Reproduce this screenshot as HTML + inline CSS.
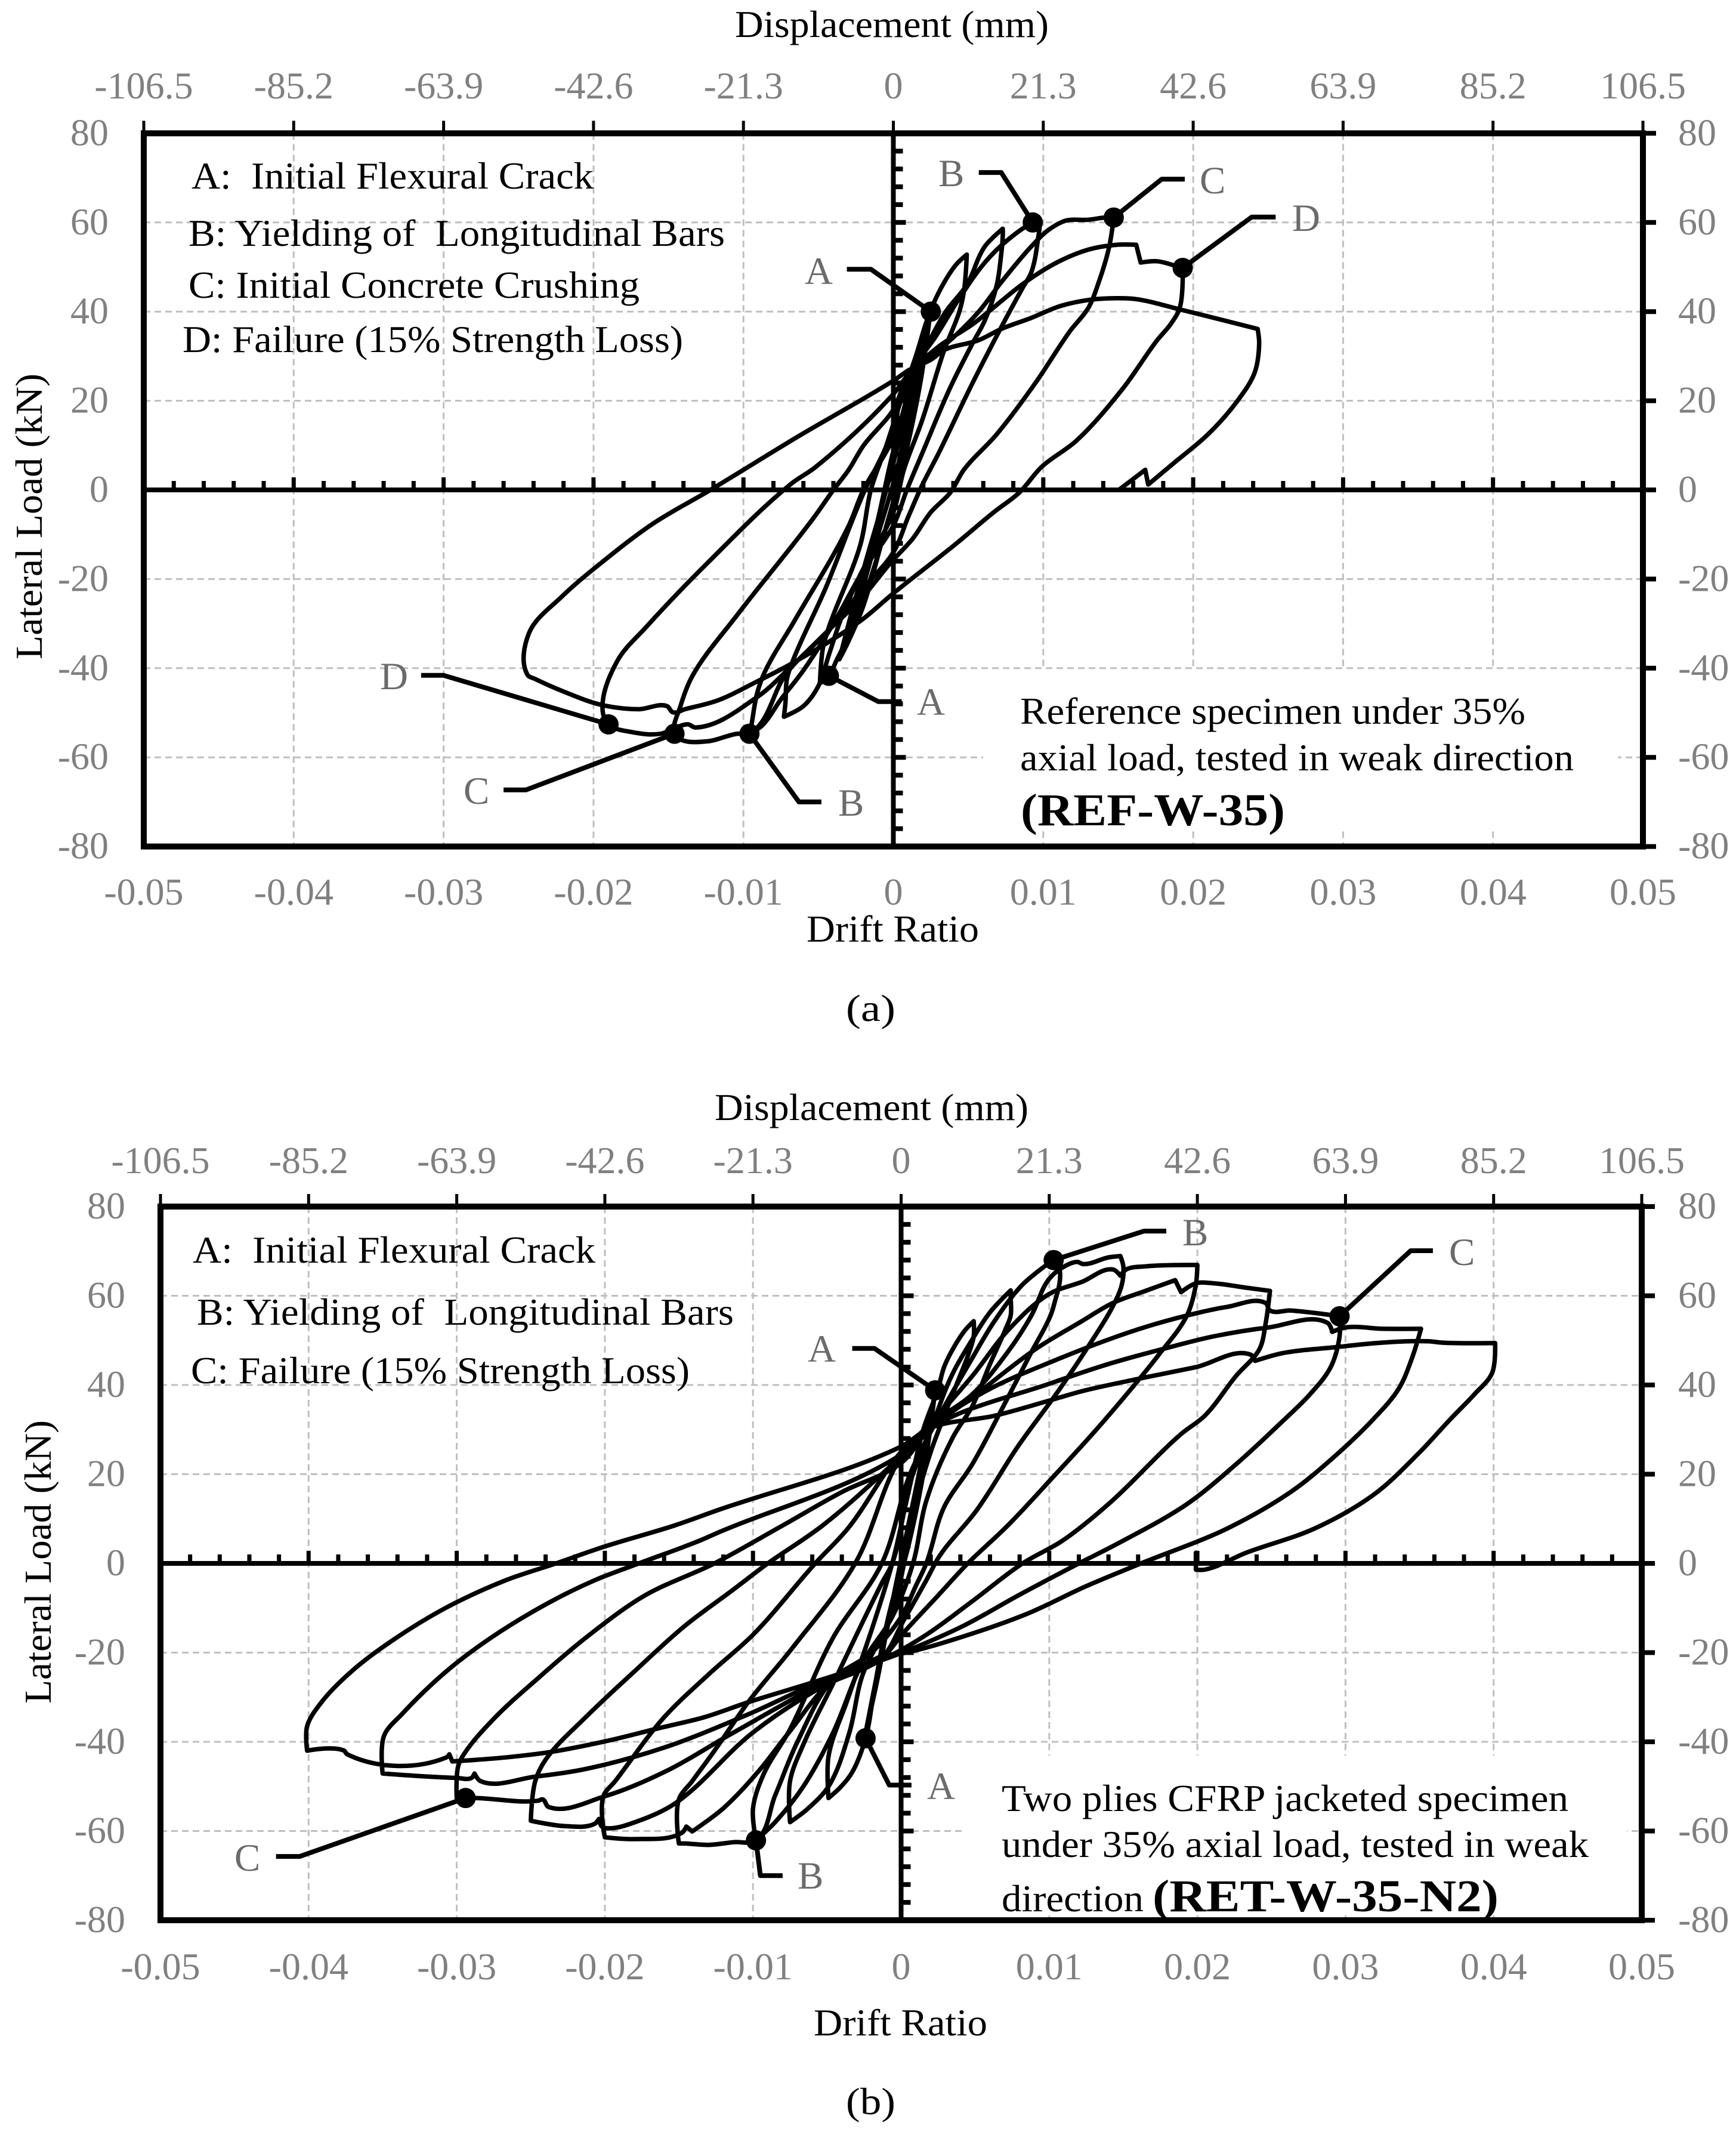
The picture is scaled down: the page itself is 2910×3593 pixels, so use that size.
<!DOCTYPE html>
<html lang="en">
<head>
<meta charset="utf-8">
<title>Hysteresis curves REF-W-35 and RET-W-35-N2</title>
<style>
html,body{margin:0;padding:0;background:#fff;width:2910px;height:3593px;overflow:hidden}
svg{display:block}
text{font-family:"Liberation Serif","Times New Roman",serif}
.title{font-size:64px;fill:#000}
.legend{font-size:64px;fill:#000}
.note{font-size:64px;fill:#000}
.code{font-size:76px;fill:#000;font-weight:bold}
.paren{font-size:76px;fill:#000}
.pt{font-size:65px;fill:#6b6b6b}
</style>
</head>
<body>
<svg id="figure" xmlns="http://www.w3.org/2000/svg" width="2910" height="3593" viewBox="0 0 2910 3593">
  <rect x="0" y="0" width="2910" height="3593" fill="#fff"/>
  <g id="panelA"></g>
  <g id="panelB"></g>

  <g id="textA">
    <text class="title" x="1232" y="62" textLength="526" lengthAdjust="spacingAndGlyphs">Displacement (mm)</text>
    <text class="title" x="1352" y="1578" textLength="289" lengthAdjust="spacingAndGlyphs">Drift Ratio</text>
    <text class="title" transform="translate(70,1105) rotate(-90)" textLength="479" lengthAdjust="spacingAndGlyphs">Lateral Load (kN)</text>
    <text class="title" x="1418" y="1711" font-size="70" textLength="83" lengthAdjust="spacingAndGlyphs">(a)</text>
    <text class="legend" x="321" y="316" textLength="674" lengthAdjust="spacingAndGlyphs" xml:space="preserve">A:  Initial Flexural Crack</text>
    <text class="legend" x="316" y="412" textLength="899" lengthAdjust="spacingAndGlyphs" xml:space="preserve">B: Yielding of  Longitudinal Bars</text>
    <text class="legend" x="316" y="499" textLength="756" lengthAdjust="spacingAndGlyphs">C: Initial Concrete Crushing</text>
    <text class="legend" x="306" y="590" textLength="839" lengthAdjust="spacingAndGlyphs">D: Failure (15% Strength Loss)</text>
    <text class="note" x="1710" y="1213" textLength="847" lengthAdjust="spacingAndGlyphs">Reference specimen under 35%</text>
    <text class="note" x="1710" y="1291" textLength="928" lengthAdjust="spacingAndGlyphs">axial load, tested in weak direction</text>
    <text x="1711" y="1383" textLength="443" lengthAdjust="spacingAndGlyphs" class="code">(REF-W-35)</text>
    <text class="pt" x="1349" y="476">A</text>
    <text class="pt" x="1573" y="312">B</text>
    <text class="pt" x="2011" y="324">C</text>
    <text class="pt" x="2166" y="387">D</text>
    <text class="pt" x="1537" y="1198">A</text>
    <text class="pt" x="1405" y="1367">B</text>
    <text class="pt" x="777" y="1347">C</text>
    <text class="pt" x="637" y="1155">D</text>
  </g>

  <g id="textB">
    <text class="title" x="1198" y="1877" textLength="526" lengthAdjust="spacingAndGlyphs">Displacement (mm)</text>
    <text class="title" x="1364" y="3411" textLength="291" lengthAdjust="spacingAndGlyphs">Drift Ratio</text>
    <text class="title" transform="translate(85,2855) rotate(-90)" textLength="475" lengthAdjust="spacingAndGlyphs">Lateral Load (kN)</text>
    <text class="title" x="1418" y="3543" font-size="70" textLength="83" lengthAdjust="spacingAndGlyphs">(b)</text>
    <text class="legend" x="323" y="2116" textLength="675" lengthAdjust="spacingAndGlyphs" xml:space="preserve">A:  Initial Flexural Crack</text>
    <text class="legend" x="330" y="2220" textLength="900" lengthAdjust="spacingAndGlyphs" xml:space="preserve">B: Yielding of  Longitudinal Bars</text>
    <text class="legend" x="320" y="2318" textLength="836" lengthAdjust="spacingAndGlyphs">C: Failure (15% Strength Loss)</text>
    <text class="note" x="1679" y="3035" textLength="950" lengthAdjust="spacingAndGlyphs">Two plies CFRP jacketed specimen</text>
    <text class="note" x="1679" y="3112" textLength="984" lengthAdjust="spacingAndGlyphs">under 35% axial load, tested in weak</text>
    <text class="note" x="1679" y="3203" textLength="238" lengthAdjust="spacingAndGlyphs">direction</text>
    <text class="code" x="1932" y="3203" textLength="580" lengthAdjust="spacingAndGlyphs">(RET-W-35-N2)</text>
    <text class="pt" x="1354" y="2282">A</text>
    <text class="pt" x="1982" y="2087">B</text>
    <text class="pt" x="2429" y="2120">C</text>
    <text class="pt" x="1554" y="3015">A</text>
    <text class="pt" x="1337" y="3165">B</text>
    <text class="pt" x="393" y="3135">C</text>
  </g>
</svg>

<script>
// ---------- shared axis data ----------
const driftTicks = [-0.05,-0.04,-0.03,-0.02,-0.01,0,0.01,0.02,0.03,0.04,0.05];
const driftTickLabels = ['-0.05','-0.04','-0.03','-0.02','-0.01','0','0.01','0.02','0.03','0.04','0.05'];
const displacementTickLabels = ['-106.5','-85.2','-63.9','-42.6','-21.3','0','21.3','42.6','63.9','85.2','106.5'];
const loadTicks = [80,60,40,20,0,-20,-40,-60,-80];
const loadTickLabels = ['80','60','40','20','0','-20','-40','-60','-80'];

// ---------- REF-W-35 : loop history ----------
const driftA = [
 0,.0012,.0024,.0018,.0006,-.0008,-.002,-.003,-.0036,-.0025,-.0012,-.0002,.001,.002,.0012,.0002,-.0012,-.0024,-.0032,-.002,-.0008,.0003,
 .0012,.0024,.0018,.0006,-.0008,
 -.002,-.003,-.0038,-.0043,-.0049,-.0047,-.0043,-.0022,-.0015,-.0005,.0005,
 .0015,.00245,.0034,.0042,.0049,.0047,.0044,.0034,.0019,.0007,0,
 -.0022,-.0035,-.0043,-.005,-.006,-.0073,-.0072,-.0071,-.0067,-.0045,-.0025,-.0019,-.0005,.0005,
 .0019,.0035,.0049,.0061,.0073,.0073,.0072,.0069,.0061,.0053,.0038,.0019,.0009,0,
 -.002,-.004,-.006,-.0075,-.0088,-.0096,-.0095,-.0091,-.0086,-.0066,-.003,-.002,0,.0005,
 .0011,.0028,.0044,.0061,.0076,.00935,.0098,.0097,.0092,.0086,.0072,.0053,.003,.0019,.001,0,-.002,
 -.0043,-.0071,-.0096,-.0104,-.0124,-.0142,-.0146,-.0142,-.0134,-.0104,-.0053,-.004,-.003,-.002,0,
 .0011,.0038,.0057,.0072,.0092,.0103,.0115,.013,.0141,.0147,.0144,.0137,.013,.0118,.0095,.0069,.0047,.0038,.0025,.0013,-.0002,-.0022,
 -.0043,-.0068,-.0091,-.0132,-.0137,-.0145,-.0155,-.0175,-.019,-.0194,-.0184,-.0165,-.0124,-.0068,-.0052,0,
 .0011,.003,.0053,.0088,.0109,.013,.0149,.0162,.0165,.0176,.0193,.0191,.0185,.0176,.0153,.0122,.0099,.0084,.0067,.0041,0,
 -.0022,-.0068,-.0091,-.0117,-.0139,-.0147,-.0151,-.017,-.0195,-.0221,-.0239,-.0244,-.0243,-.0221,-.0195,-.016,-.0122,-.0063,0,
 .0011,.0025,.0034,.0057,.0072,.0092,.0111,.013,.0149,.0162,.0191,.0222,.0243,.0244,.0241,.0229,.021,.0187,.017,.0168,.0151
];
const loadA = [
 0,18,38,24,5,-12,-26,-34,-38,-24,-9,6,22,34,20,4,-12,-26,-34,-18,-4,10,
 24,38,24,5,-12,
 -24.6,-32.8,-38.3,-41.7,-43.4,-35.5,-30.8,-12.3,0,9.6,20,
 30,40,46.6,50.6,52.8,44.4,40,31.4,15.4,4.5,-5,
 -19,-29,-37,-44,-48.5,-50.9,-47.8,-42.4,-38.3,-21.9,-4.8,0,9.6,20,
 30,40,46,54.6,58.6,57,53,46,38,33,23,8,0,-8,
 -18,-30,-40.5,-47,-53,-54.7,-53.3,-45.8,-41,-29.4,-8.2,0,12,22,
 26.3,34.3,43,51,56,60,60.4,57.5,48.8,45.2,36.5,24.1,8.1,.9,-6,-14,-22,
 -31.4,-41,-54.7,-54.7,-56.4,-56,-54.7,-48.5,-41.7,-28,-6.2,0,4.4,9.9,18,
 26.3,33.6,40,46.6,54.6,58.2,60.4,60.6,61.1,61.1,54.6,46.6,40.8,35.7,24.1,12.5,4.5,-.6,-5,-10.9,-16.4,-24.6,
 -31.4,-39.6,-46.5,-53.3,-52.6,-53.3,-54.7,-54.3,-52.6,-49.2,-38.3,-30.8,-16.4,1.4,5.1,21.5,
 26.3,32.1,37.2,46.6,51,53.9,55,55,51,51.3,49.7,40.8,37.2,33.6,22.7,11,5.2,-.6,-5,-12.3,-23.2,
 -29.4,-39,-43,-47.2,-49.2,-49.9,-48.5,-49.2,-48.2,-45.1,-42.4,-41.5,-32.1,-23.9,-16.4,-7.5,0,12.1,24.5,
 27,29.2,31.4,33.6,36.1,38.6,41.2,42.6,43,42.8,40.5,37.9,36.1,32.8,26.3,19.75,12.5,6,1.2,4.5,.15
];
const markerDriftA = [.0025,.0093,.0147,.0193,-.0043,-.0096,-.0146,-.019];
const markerLoadA  = [40,60,61.1,49.8,-41.7,-54.7,-54.7,-52.6];
const leaderDriftA = [
 [-.0031,-.0015,.0025],[.0057,.0072,.0093],[.01944,.0179,.0147],[.0255,.0239,.0193],
 [.00056,-.001,-.0043],[-.0048,-.0063,-.0096],[-.026,-.0245,-.0146],[-.0315,-.03,-.019]
];
const leaderLoadA = [
 [49.5,49.5,40],[71.2,71.2,60],[69.7,69.7,61.1],[61.2,61.2,49.8],
 [-47.5,-47.5,-41.7],[-70,-70,-54.7],[-67.3,-67.3,-54.7],[-41.6,-41.6,-52.6]
];

// ---------- RET-W-35-N2 : loop history ----------
const driftB = [
 0,.0012,.0023,.0016,.0005,-.001,-.0018,-.0024,-.0014,-.0004,.0006,.0016,.0023,.0012,.0002,-.0008,-.0016,-.0024,-.0012,0,.001,.0022,.0012,.0002,-.001,
 -.0018,-.0024,-.0033,-.0041,-.0049,-.0049,-.0036,-.0019,-.0006,.0005,
 .0015,.0025,.0029,.0035,.0043,.0049,.0049,.0046,.0038,.0029,.002,.0008,.0002,-.0007,
 -.0026,-.0035,-.0049,-.0063,-.0075,-.0075,-.0066,-.0046,-.0013,-.0006,.0006,
 .002,.0034,.0048,.006,.0074,.0074,.0074,.0071,.006,.0048,.0035,.0017,.0008,-.0006,
 -.0026,-.0046,-.0066,-.0085,-.0098,-.01,-.0093,-.0075,-.0046,-.0013,.0006,
 .0024,.0048,.0063,.0082,.0103,.0107,.0103,.01,.0088,.0069,.0048,.0029,.0017,.001,0,-.002,
 -.0046,-.007,-.0085,-.0098,-.0113,-.013,-.0146,-.015,-.015,-.0141,-.0126,-.0103,-.0073,-.0031,0,
 .0017,.0048,.0072,.0088,.01,.0112,.0119,.0123,.014,.0148,.015,.0149,.0143,.0128,.0106,.0079,.0051,.0026,.0017,.0002,-.0014,
 -.0046,-.0076,-.0096,-.012,-.0141,-.0145,-.0148,-.018,-.02,-.0201,-.0193,-.016,-.013,-.01,-.0058,-.0036,0,
 .0017,.0048,.0072,.01,.0122,.0143,.0148,.0152,.0165,.02,.0199,.0193,.0174,.0159,.0131,.0103,.0072,.0045,.0023,.0002,-.0014,
 -.0053,-.01,-.0153,-.0177,-.0198,-.0202,-.0204,-.0207,-.0227,-.025,-.0247,-.024,-.0213,-.018,-.0146,-.0113,-.009,-.0053,0,
 .002,.0048,.0091,.0122,.0143,.0165,.0185,.0189,.0199,.0211,.0233,.0249,.0246,.0242,.0226,.0205,.0189,.014,.0109,.0082,.0048,.0017,-.0008,
 -.0053,-.0113,-.016,-.02,-.0238,-.0242,-.0245,-.0287,-.03,-.0299,-.0295,-.0274,-.0247,-.0213,-.0173,-.0126,-.008,-.004,0,
 .002,.0057,.0103,.0146,.0171,.0202,.022,.0246,.0249,.0263,.0296,.0296,.029,.0276,.0257,.0226,.0193,.0146,.012,.0079,.0042,0,
 -.0053,-.0103,-.016,-.0213,-.0247,-.0284,-.0288,-.029,-.03,-.035,-.0349,-.0337,-.0307,-.0277,-.024,-.0207,-.0177,-.0136,-.0125,0,
 .002,.0103,.014,.0177,.0211,.0248,.0288,.0291,.03,.0325,.0351,.0345,.0336,.0319,.0291,.0263,.022,.0162,.0125,.0085,.0039,.0002,
 -.0013,-.0026,-.0056,-.0103,-.0133,-.0163,-.02,-.0237,-.0267,-.0294,-.0303,-.0305,-.0307,-.0374,-.0376,-.0401,-.0401,-.0391,-.0371,-.0344,-.0307,-.0267,-.0233,-.02,-.0153,-.0125,0,
 .002,.0063,.01,.0122,.0159,.0199,.0236,.0239,.0257,.0294,.0325,.0356,.0365,.0401,.0399,.0387,.0371,.035,.0319,.0279,.0233,.0205,.0199,.0199
];
const loadB = [
 0,18,38.8,22,4,-14,-28,-39,-22,-6,10,26,38,20,4,-12,-26,-38,-18,0,16,36,18,2,-14,
 -28,-39.2,-46.8,-50.2,-52.6,-43.3,-30.4,-14,0,16,
 30,39.2,44,48.1,52.2,54.3,50.9,47.4,40.6,33,25,11,0,-12,
 -25,-38,-50,-55,-58,-48.8,-40.6,-27,-4.4,0,18,
 30,42,50.2,56.3,61.2,59.7,55.6,52.9,44.7,35.2,28.3,14,0,-12,
 -22.2,-38,-50,-58,-62.1,-55,-47.4,-37.2,-16.7,0,20,
 32,46,54.3,62.5,68.1,65.9,57.7,54.9,47.4,35.2,22.2,12.6,0,-5,-12,-20,
 -26,-40,-52,-62.1,-62.5,-63.1,-62.8,-62.8,-52.9,-48.8,-42,-31,-18.8,0,24,
 30.4,37.9,47.4,55.6,63.8,66.9,67.6,67.1,68.6,68.9,66.6,62.5,57.7,49.5,38.6,26.3,11.9,1.7,-3.8,-12.6,-21.5,
 -26.3,-38,-46.5,-54.9,-60.1,-59,-60.4,-61.8,-61.4,-52.2,-48.8,-34.5,-24.9,-16,0,7.8,25,
 30.4,42,52.2,60.4,63.1,65.9,64.5,65.9,66.6,66.9,62.5,55.6,46.8,40.6,29.7,19.5,8.5,0,-7.9,-15.4,-21.5,
 -27.6,-37.9,-53.9,-57.7,-59.4,-59,-57.3,-58.4,-58.9,-57.7,-48.8,-44,-34.5,-24.2,-14,-5.8,0,8.5,24,
 30.4,37.2,48.1,54.3,58.4,61.1,63.5,60.8,62.8,62.8,61.8,61.1,53.6,48.1,42,33.1,29,13.3,5.1,0,-8.5,-16,-20.8,
 -27,-37.9,-46.8,-52.2,-54.6,-52.9,-53.2,-52.6,-52.6,-45.4,-42.7,-34.5,-26.3,-16.7,-7.2,0,8.5,16,22.5,
 30.4,38.6,45.4,50.9,53.6,56.3,57.5,58.4,56.7,56.7,55.4,50.9,44,37.9,31.7,22.2,13.3,4.4,0,-7.2,-14,-20.1,
 -26.3,-33.8,-41.3,-46.1,-47.8,-48.8,-47.1,-48.1,-48.1,-47.1,-38.6,-33.8,-24.2,-16.7,-9.2,-3.8,0,5.1,6.7,24.4,
 30.4,40.6,44.7,48.1,50.9,52.9,53.9,51.9,52.9,52.6,52.6,46.1,39.2,32.4,23.5,16,7.8,0,-5.1,-11.3,-16.7,-20.1,
 -20.8,-22.9,-26.3,-31.1,-34.5,-36.9,-39.9,-42.3,-43.5,-44.2,-44.4,-42.8,-43.5,-42.8,-42,-42,-36.5,-31,-24.2,-17.4,-9.9,-3.8,0,3.8,8.5,11.8,26.2,
 30.4,33.1,36.5,38.6,41.3,44,46.8,45.4,47.1,48.5,49.5,49.8,49.5,49.4,42.7,37.9,32.4,24.9,15.4,7.8,2.4,-1.4,-1.4,2.4
];
const markerDriftB = [.0023,.0103,.0296,-.0024,-.0098,-.0294];
const markerLoadB  = [38.8,68,55.4,-39.2,-62.1,-52.6];
const leaderDriftB = [
 [-.0033,-.0018,.0023],[.0179,.0164,.0103],[.0359,.0344,.0296],
 [.0007,-.0008,-.0024],[-.008,-.0095,-.0098],[-.0422,-.0406,-.0294]
];
const leaderLoadB = [
 [48.2,48.2,38.8],[74.5,74.5,68],[70.1,70.1,55.4],
 [-49.7,-49.7,-39.2],[-70,-70,-62.1],[-65.7,-65.7,-52.6]
];

// ---------- drawing ----------
const NS = 'http://www.w3.org/2000/svg';

function makeLine(parent, name, x1, y1, x2, y2, stroke, width, dash) {
  const el = document.createElementNS(NS, 'line');
  
  
  el.setAttribute('x1', x1);
  el.setAttribute('y1', y1);
  el.setAttribute('x2', x2);
  el.setAttribute('y2', y2);
  el.setAttribute('stroke', stroke);
  el.setAttribute('stroke-width', width);
  if (dash) el.setAttribute('stroke-dasharray', dash);
  parent.appendChild(el);
  return el;
}

function makeTickText(parent, name, x, y, anchor, content) {
  const el = document.createElementNS(NS, 'text');
  
  
  el.setAttribute('x', x);
  el.setAttribute('y', y);
  el.setAttribute('text-anchor', anchor);
  el.setAttribute('font-size', '64');
  el.setAttribute('fill', '#808080');
  el.textContent = content;
  parent.appendChild(el);
  return el;
}

function makePolyline(parent, name, pts, width) {
  const el = document.createElementNS(NS, 'polyline');
  
  
  el.setAttribute('points', pts);
  el.setAttribute('fill', 'none');
  el.setAttribute('stroke', '#000');
  el.setAttribute('stroke-width', width);
  el.setAttribute('stroke-linejoin', 'round');
  el.setAttribute('stroke-linecap', 'butt');
  parent.appendChild(el);
  return el;
}

// smooth path through screen points: tangent handles limited by segment length, true reversals stay sharp
function smoothPath(px, py) {
  const n = px.length;
  const tx = new Array(n).fill(0), ty = new Array(n).fill(0);
  for (let i = 1; i < n - 1; i++) {
    const ax = px[i] - px[i - 1], ay = py[i] - py[i - 1];
    const bx = px[i + 1] - px[i], by = py[i + 1] - py[i];
    const la = Math.hypot(ax, ay) || 1, lb = Math.hypot(bx, by) || 1;
    if ((ax * bx + ay * by) / (la * lb) < 0.35) continue;
    const cx = ax / la + bx / lb, cy = ay / la + by / lb;
    const lc = Math.hypot(cx, cy) || 1;
    tx[i] = cx / lc;
    ty[i] = cy / lc;
  }
  let d = 'M' + px[0].toFixed(1) + ' ' + py[0].toFixed(1);
  for (let i = 0; i < n - 1; i++) {
    const len = Math.hypot(px[i + 1] - px[i], py[i + 1] - py[i]) * 0.33;
    d += 'C' + (px[i] + tx[i] * len).toFixed(1) + ' ' + (py[i] + ty[i] * len).toFixed(1) + ' ' +
         (px[i + 1] - tx[i + 1] * len).toFixed(1) + ' ' + (py[i + 1] - ty[i + 1] * len).toFixed(1) + ' ' +
         px[i + 1].toFixed(1) + ' ' + py[i + 1].toFixed(1);
  }
  return d;
}

function drawPanel(c) {
  const g = document.getElementById(c.id);
  const xs = d => c.x0 + d * c.xPerUnit;
  const ys = l => c.y0 - l * c.yPerUnit;
  const L = xs(-0.05), R = xs(0.05), T = ys(80), B = ys(-80);

  // grid
  driftTicks.forEach(d => {
    if (Math.abs(d) > 0.045 || d === 0) return;
    makeLine(g, c.tag + '-vertical-gridline', xs(d), T, xs(d), B, '#bfbfbf', 3, '11 7');
  });
  loadTicks.forEach(l => {
    if (Math.abs(l) === 80 || l === 0) return;
    makeLine(g, c.tag + '-horizontal-gridline', L, ys(l), R, ys(l), '#bfbfbf', 3, '11 7');
  });

  // white note box hides the grid behind the specimen description
  const box = document.createElementNS(NS, 'rect');
  
  
  box.setAttribute('x', c.box[0]);
  box.setAttribute('y', c.box[1]);
  box.setAttribute('width', c.box[2]);
  box.setAttribute('height', c.box[3]);
  box.setAttribute('fill', '#fff');
  g.appendChild(box);

  // top ticks, top labels, bottom labels
  driftTicks.forEach((d, i) => {
    makeLine(g, c.tag + '-top-tick', xs(d), T, xs(d), T - 21, '#000', 5);
    makeTickText(g, c.tag + '-top-tick-label', xs(d), c.topLabelY, 'middle', displacementTickLabels[i]);
    makeTickText(g, c.tag + '-drift-tick-label', xs(d), c.bottomLabelY, 'middle', driftTickLabels[i]);
  });

  // minor + major ticks on the zero lines
  for (let k = -25; k <= 25; k++) {
    if (k === 0 || Math.abs(k) === 25) continue;
    const len = k % 5 === 0 ? 21 : 15;
    makeLine(g, c.tag + '-zero-line-tick', xs(k * 0.002), c.y0, xs(k * 0.002), c.y0 - len, '#000', 7);
  }
  for (let k = -19; k <= 19; k++) {
    if (k === 0) continue;
    const len = k % 5 === 0 ? 21 : 16;
    makeLine(g, c.tag + '-y-axis-tick', c.x0, ys(k * 4), c.x0 + len, ys(k * 4), '#000', 8);
  }

  // y labels + right ticks
  loadTicks.forEach((l, i) => {
    makeLine(g, c.tag + '-right-tick', R, ys(l), R + 22, ys(l), '#000', 8);
    makeTickText(g, c.tag + '-left-tick-label', c.leftLabelX, ys(l) + 20, 'end', loadTickLabels[i]);
    makeTickText(g, c.tag + '-right-tick-label', 2813, ys(l) + 20, 'start', loadTickLabels[i]);
  });

  // zero axes
  makeLine(g, c.tag + '-x-zero-line', L, c.y0, R, c.y0, '#000', 8);
  makeLine(g, c.tag + '-y-zero-line', c.x0, T, c.x0, B, '#000', 8);

  // frame
  const frame = document.createElementNS(NS, 'rect');
  
  
  frame.setAttribute('x', L);
  frame.setAttribute('y', T);
  frame.setAttribute('width', R - L);
  frame.setAttribute('height', B - T);
  frame.setAttribute('fill', 'none');
  frame.setAttribute('stroke', '#000');
  frame.setAttribute('stroke-width', 10);
  g.appendChild(frame);

  // hysteresis curve
  const curve = document.createElementNS(NS, 'path');
  
  
  curve.setAttribute('d', smoothPath(c.drift.map(xs), c.load.map(ys)));
  curve.setAttribute('fill', 'none');
  curve.setAttribute('stroke', '#000');
  curve.setAttribute('stroke-width', 7.5);
  curve.setAttribute('stroke-linejoin', 'round');
  curve.setAttribute('stroke-linecap', 'round');
  g.appendChild(curve);

  // callout leaders
  c.leaderDrift.forEach((arr, i) => {
    const lp = arr.map((d, j) => xs(d).toFixed(1) + ',' + ys(c.leaderLoad[i][j]).toFixed(1)).join(' ');
    makePolyline(g, c.tag + '-callout-leader', lp, 8);
  });

  // damage state markers
  c.markerDrift.forEach((d, i) => {
    const dot = document.createElementNS(NS, 'circle');
    
    
    dot.setAttribute('cx', xs(d));
    dot.setAttribute('cy', ys(c.markerLoad[i]));
    dot.setAttribute('r', 17);
    dot.setAttribute('fill', '#000');
    g.appendChild(dot);
  });
}

drawPanel({
  id: 'panelA', tag: 'panel-a', x0: 1497.5, y0: 821, xPerUnit: 25130, yPerUnit: 7.47,
  topLabelY: 165, bottomLabelY: 1516, leftLabelX: 182, box: [1648, 1122, 1064, 269],
  drift: driftA, load: loadA, markerDrift: markerDriftA, markerLoad: markerLoadA,
  leaderDrift: leaderDriftA, leaderLoad: leaderLoadA
});
drawPanel({
  id: 'panelB', tag: 'panel-b', x0: 1510.5, y0: 2620, xPerUnit: 24830, yPerUnit: 7.475,
  topLabelY: 1966, bottomLabelY: 3317, leftLabelX: 210, box: [1617, 2942, 1110, 263],
  drift: driftB, load: loadB, markerDrift: markerDriftB, markerLoad: markerLoadB,
  leaderDrift: leaderDriftB, leaderLoad: leaderLoadB
});
</script>
</body>
</html>
